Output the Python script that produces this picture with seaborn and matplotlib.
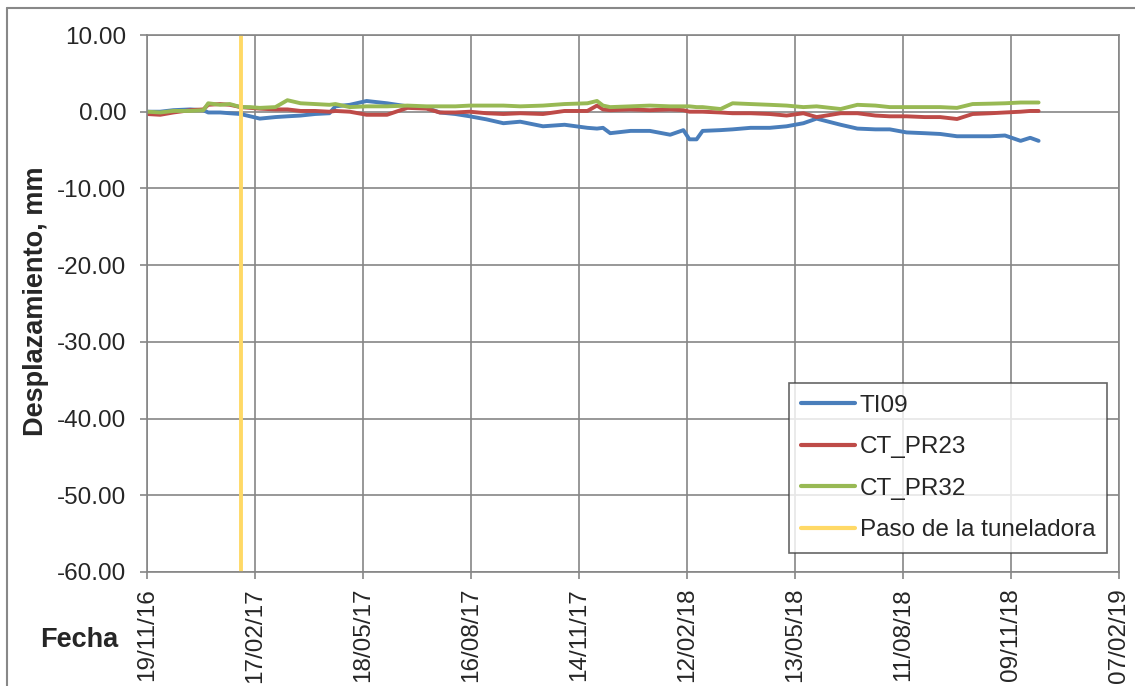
import matplotlib
matplotlib.use('Agg')
import matplotlib.pyplot as plt
import matplotlib.dates as mdates
from matplotlib.lines import Line2D
import seaborn as sns
import pandas as pd

# Fechas de lectura (comunes a las tres series)
dates = ['2016-11-19', '2016-11-30', '2016-12-11', '2016-12-25', '2017-01-05', '2017-01-09',
         '2017-01-19', '2017-01-27', '2017-02-05', '2017-02-13', '2017-02-21', '2017-03-06',
         '2017-03-16', '2017-03-27', '2017-04-08', '2017-04-20', '2017-04-25', '2017-05-07',
         '2017-05-21', '2017-06-07', '2017-06-24', '2017-07-10', '2017-07-21', '2017-08-03',
         '2017-08-15', '2017-08-29', '2017-09-12', '2017-09-26', '2017-10-15', '2017-11-02',
         '2017-11-21', '2017-11-29', '2017-12-04', '2017-12-10', '2017-12-27', '2018-01-12',
         '2018-01-29', '2018-02-09', '2018-02-14', '2018-02-20', '2018-02-25', '2018-03-12',
         '2018-03-22', '2018-04-06', '2018-04-22', '2018-05-06', '2018-05-20', '2018-05-31',
         '2018-06-20', '2018-07-04', '2018-07-19', '2018-07-31', '2018-08-14', '2018-08-29',
         '2018-09-11', '2018-09-25', '2018-10-08', '2018-10-23', '2018-11-04', '2018-11-17',
         '2018-11-25', '2018-12-02']

ti09 = [0.0, 0.0, 0.2, 0.3, 0.2, -0.1, -0.1, -0.2, -0.3, -0.6, -0.9, -0.7,
        -0.6, -0.5, -0.3, -0.2, 0.7, 0.9, 1.4, 1.1, 0.7, 0.5, -0.1, -0.3,
        -0.6, -1.0, -1.5, -1.3, -1.9, -1.7, -2.1, -2.2, -2.1, -2.8, -2.5, -2.5,
        -3.0, -2.4, -3.6, -3.6, -2.5, -2.4, -2.3, -2.1, -2.1, -1.9, -1.5, -0.9,
        -1.7, -2.2, -2.3, -2.3, -2.7, -2.8, -2.9, -3.2, -3.2, -3.2, -3.1, -3.8,
        -3.4, -3.8]

ct_pr23 = [-0.3, -0.4, -0.1, 0.2, 0.3, 0.9, 1.0, 0.9, 0.6, 0.5, 0.4, 0.3,
           0.3, 0.1, 0.1, 0.0, 0.1, 0.0, -0.4, -0.4, 0.5, 0.4, -0.1, -0.1,
           0.0, -0.2, -0.3, -0.2, -0.3, 0.1, 0.1, 0.8, 0.3, 0.2, 0.3, 0.2,
           0.3, 0.2, 0.0, 0.0, 0.0, -0.1, -0.2, -0.2, -0.3, -0.5, -0.2, -0.7,
           -0.2, -0.2, -0.5, -0.6, -0.6, -0.7, -0.7, -0.95, -0.3, -0.2, -0.1, 0.0,
           0.1, 0.1]

ct_pr32 = [0.0, -0.1, 0.1, 0.1, 0.2, 1.1, 0.9, 1.0, 0.6, 0.6, 0.5, 0.6,
           1.5, 1.1, 1.0, 0.9, 1.0, 0.6, 0.7, 0.7, 0.8, 0.7, 0.7, 0.7,
           0.8, 0.8, 0.8, 0.7, 0.8, 1.0, 1.1, 1.4, 0.8, 0.6, 0.7, 0.8,
           0.7, 0.7, 0.7, 0.6, 0.6, 0.35, 1.1, 1.0, 0.9, 0.8, 0.6, 0.7,
           0.35, 0.9, 0.8, 0.6, 0.6, 0.6, 0.6, 0.5, 1.0, 1.05, 1.1, 1.2,
           1.2, 1.2]

series_names = ['TI09', 'CT_PR23', 'CT_PR32']
colors = {'TI09': '#4A7EBB', 'CT_PR23': '#BE4B48', 'CT_PR32': '#98B954'}

paso_tuneladora = '2017-02-05'
paso_label = 'Paso de la tuneladora'
paso_color = '#FFD966'

y_ticks = [10, 0, -10, -20, -30, -40, -50, -60]
x_start = '2016-11-19'
x_end = '2019-02-07'

df = pd.DataFrame({'fecha': pd.to_datetime(dates), 'TI09': ti09,
                   'CT_PR23': ct_pr23, 'CT_PR32': ct_pr32})
df = df.melt(id_vars='fecha', value_vars=series_names, var_name='serie', value_name='desp')

sns.set_style('white')
plt.rcParams['font.family'] = ['Liberation Sans', 'DejaVu Sans']

fig = plt.figure(figsize=(11.35, 6.86), dpi=100)
ax = fig.add_axes([147 / 1135, 1 - 572 / 686, 972 / 1135, 537 / 686])

sns.lineplot(data=df, x='fecha', y='desp', hue='serie', hue_order=series_names,
             palette=colors, linewidth=2.8, ax=ax)
ax.axvline(pd.Timestamp(paso_tuneladora), color=paso_color, linewidth=2.8, label=paso_label)

ax.set_xlim(pd.Timestamp(x_start), pd.Timestamp(x_end))
ax.set_ylim(-60, 10)
ax.set_yticks(y_ticks)
ax.yaxis.set_major_formatter(matplotlib.ticker.FormatStrFormatter('%.2f'))
ax.set_xticks(pd.date_range(x_start, periods=10, freq='90D'))
ax.xaxis.set_major_formatter(mdates.DateFormatter('%d/%m/%y'))
ax.tick_params(axis='x', rotation=90, pad=6.5)
ax.tick_params(axis='y', pad=10)
ax.tick_params(labelsize=17.5, length=5, width=1.2, color='#868686', direction='out',
               bottom=True, left=True)

ax.grid(True, color='#868686', linewidth=1.2)
for side, sp in ax.spines.items():
    sp.set_color('#868686')
    sp.set_linewidth(1.2)

ax.set_xlabel('')
ax.set_ylabel('Desplazamiento, mm', fontsize=19.5, fontweight='bold')
ax.yaxis.set_label_coords(-0.101, 0.505)
fig.text(40 / 1135, 1 - 640 / 686, 'Fecha', fontsize=19.5, fontweight='bold', va='center')

leg = ax.legend(loc='lower right', bbox_to_anchor=(0.988, 0.035), borderaxespad=0,
                fontsize=17.5, frameon=True, fancybox=False, handlelength=2.2,
                handletextpad=0.2, labelspacing=0.8, borderpad=0.5)
leg.get_frame().set_edgecolor('#404040')
leg.get_frame().set_linewidth(1.2)
for h in leg.get_lines():
    h.set_linewidth(3)

# marco exterior del gráfico
fig.add_artist(Line2D([7 / 1135, 7 / 1135], [0, 1 - 8 / 686], color='#888888', linewidth=1.5))
fig.add_artist(Line2D([7 / 1135, 1], [1 - 8 / 686, 1 - 8 / 686], color='#888888', linewidth=1.5))

fig.savefig('out.png', dpi=100)
